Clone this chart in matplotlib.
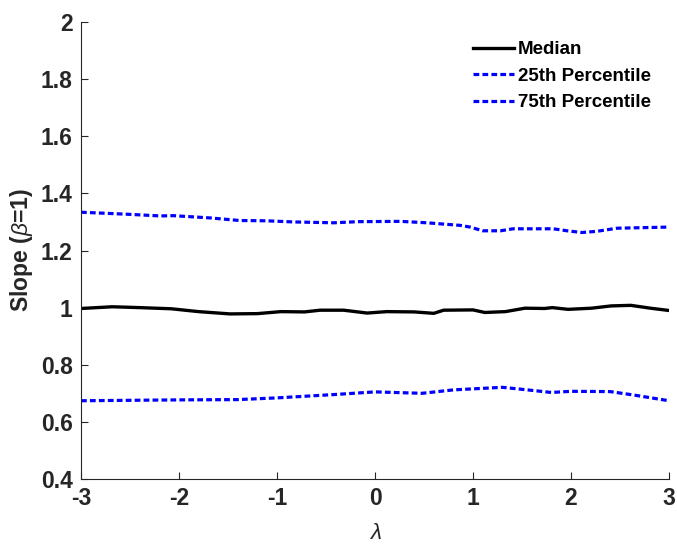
import numpy as np
import matplotlib
matplotlib.use('Agg')
import matplotlib.pyplot as plt

plt.rcParams['font.family'] = ['Liberation Sans', 'DejaVu Sans']
plt.rcParams['mathtext.fontset'] = 'custom'
plt.rcParams['mathtext.it'] = 'Liberation Sans:italic'
plt.rcParams['mathtext.rm'] = 'Liberation Sans'
plt.rcParams['axes.unicode_minus'] = False

# values
lam_med = [-3, -2.68, -2.4, -2.08, -1.8, -1.48, -1.2, -0.96, -0.72, -0.56, -0.32, -0.08,
           0.12, 0.4, 0.6, 0.7, 1.0, 1.12, 1.33, 1.53, 1.73, 1.81, 1.97, 2.21, 2.41,
           2.61, 2.81, 3]
median = [0.997, 1.003, 1.0, 0.996, 0.986, 0.978, 0.979, 0.986, 0.985, 0.991, 0.991,
          0.981, 0.986, 0.985, 0.980, 0.991, 0.992, 0.983, 0.986, 0.998, 0.997, 1.0,
          0.994, 0.998, 1.006, 1.008, 0.998, 0.990]

lam_p25 = [-3, -2.0, -1.4, -1.0, -0.4, 0.0, 0.48, 0.8, 1.3, 1.5, 1.8, 2.0, 2.4, 2.64, 3]
p25 = [0.674, 0.677, 0.678, 0.684, 0.696, 0.705, 0.700, 0.712, 0.721, 0.714, 0.703,
       0.707, 0.706, 0.694, 0.674]

lam_p75 = [-3, -2.53, -2.19, -2.06, -1.68, -1.38, -1.11, -0.83, -0.42, -0.17, 0.26,
           0.53, 0.87, 0.97, 1.1, 1.28, 1.41, 1.82, 1.96, 2.11, 2.26, 2.47, 3]
p75 = [1.334, 1.327, 1.321, 1.322, 1.314, 1.305, 1.304, 1.300, 1.297, 1.301, 1.302,
       1.297, 1.288, 1.282, 1.269, 1.269, 1.276, 1.276, 1.269, 1.263, 1.267, 1.278,
       1.282]

fig = plt.figure(figsize=(6.77, 5.45), dpi=100)
ax = fig.add_axes([81/677, 66/545, 588/677, 457/545])

ax.plot(lam_med, median, color='k', lw=2.4, label='Median')
ax.plot(lam_p25, p25, color='b', lw=2.3, linestyle=(0, (1.8, 1)),
        dash_capstyle='butt', label='25th Percentile')
ax.plot(lam_p75, p75, color='b', lw=2.3, linestyle=(0, (1.8, 1)),
        dash_capstyle='butt', label='75th Percentile')

ax.set_xlim(-3, 3)
ax.set_ylim(0.4, 2)
ax.set_xticks(np.arange(-3, 4, 1))
ax.set_yticks([0.4, 0.6, 0.8, 1, 1.2, 1.4, 1.6, 1.8, 2])
ax.set_yticklabels(['0.4', '0.6', '0.8', '1', '1.2', '1.4', '1.6', '1.8', '2'])

for s in ['top', 'right']:
    ax.spines[s].set_visible(False)
for s in ['left', 'bottom']:
    ax.spines[s].set_color('#262626')
    ax.spines[s].set_linewidth(0.8)

ax.tick_params(direction='in', length=5, width=0.8, colors='#262626',
               labelsize=16.5, pad=6)
for lbl in ax.get_xticklabels() + ax.get_yticklabels():
    lbl.set_fontweight('bold')

ax.set_xlabel(r'$\lambda$', fontsize=16, color='#262626', labelpad=9)
ax.set_ylabel(r'Slope ($\beta$=1)', fontsize=16.5, fontweight='bold', color='#262626',
              labelpad=4)

leg = ax.legend(loc='upper left', bbox_to_anchor=(0.667, 0.958), frameon=False,
                prop={'weight': 'bold', 'size': 13.5}, handlelength=2.2,
                handletextpad=0.2, labelspacing=0.5, borderpad=0, borderaxespad=0)

plt.savefig('out.png', dpi=100)
